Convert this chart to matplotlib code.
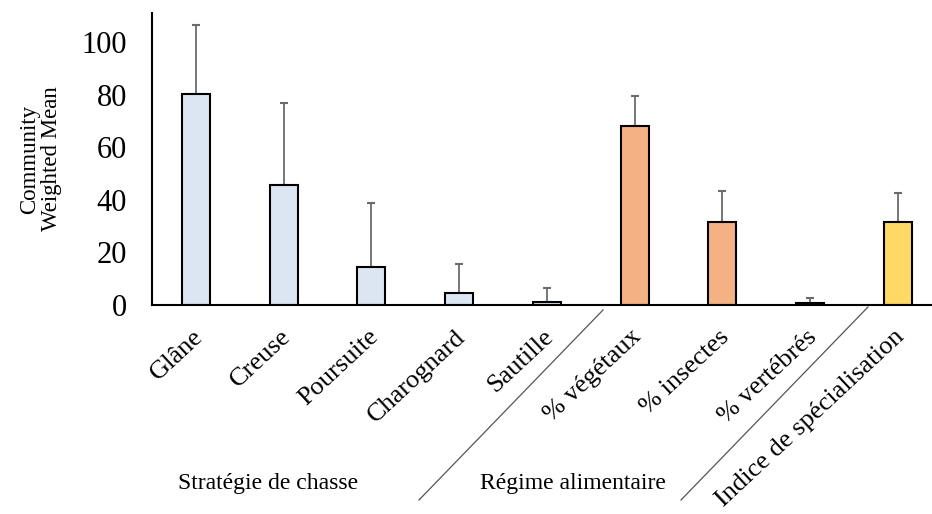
import numpy as np
import matplotlib.pyplot as plt
import matplotlib.transforms as mtransforms
from matplotlib.lines import Line2D

plt.rcParams['font.family'] = ['Liberation Serif', 'DejaVu Serif']

# donnees
categories = ['Glâne', 'Creuse', 'Poursuite', 'Charognard', 'Sautille',
              '% végétaux', '% insectes', '% vertébrés', 'Indice de spécialisation']
means = [80.2, 45.6, 14.4, 4.6, 1.1, 68.0, 31.6, 0.7, 31.6]
err_up = [26.3, 31.2, 24.4, 11.0, 5.4, 11.5, 11.7, 2.0, 11.0]
groups = ['Stratégie de chasse', 'Régime alimentaire']

colors = ['#dce6f2'] * 5 + ['#f4b183'] * 3 + ['#ffd966']

fig = plt.figure(figsize=(9.32, 5.14), dpi=100)
W, H = 932, 514
ax = fig.add_axes([152 / W, (H - 305) / H, (W - 152) / W, (305 - 13) / H])

x = np.arange(len(categories))
ax.bar(x, means, width=0.32, color=colors, edgecolor='black', linewidth=1.5, zorder=2)
ax.errorbar(x, means, yerr=[np.zeros(len(means)), err_up], fmt='none',
            ecolor='#6b6b6b', elinewidth=1.3, capsize=3, capthick=1.5, zorder=1)

ax.set_xlim(-0.5, 8.39)
ax.set_ylim(0, 111)
ax.set_yticks([0, 20, 40, 60, 80, 100])
ax.tick_params(axis='y', length=0, labelsize=22, pad=18)
ax.tick_params(axis='x', length=0, pad=15)
ax.set_xticks(x)
ax.set_xticklabels(categories, rotation=43, ha='right', va='top',
                   rotation_mode='anchor', fontsize=19)
# petit decalage vers la gauche des etiquettes
decal = mtransforms.ScaledTranslation(-4 / 100, 0, fig.dpi_scale_trans)
for lab in ax.get_xticklabels():
    lab.set_transform(lab.get_transform() + decal)
ax.spines['top'].set_visible(False)
ax.spines['right'].set_visible(False)
ax.spines['left'].set_linewidth(1.5)
ax.spines['bottom'].set_linewidth(1.5)

ax.set_ylabel('Community\nWeighted Mean', fontsize=16.5, labelpad=14, linespacing=1.05)

# etiquettes de groupes
fig.text(268 / W, 1 - 483 / H, groups[0], ha='center', va='center', fontsize=17)
fig.text(573 / W, 1 - 484 / H, groups[1], ha='center', va='center', fontsize=17)

# separateurs diagonaux
for (x0, y0, x1, y1) in [(603, 310, 419, 500), (868, 307, 681, 500)]:
    fig.add_artist(Line2D([x0 / W, x1 / W], [1 - y0 / H, 1 - y1 / H],
                          color='#555555', linewidth=0.9))

fig.savefig('out.png', dpi=100)
